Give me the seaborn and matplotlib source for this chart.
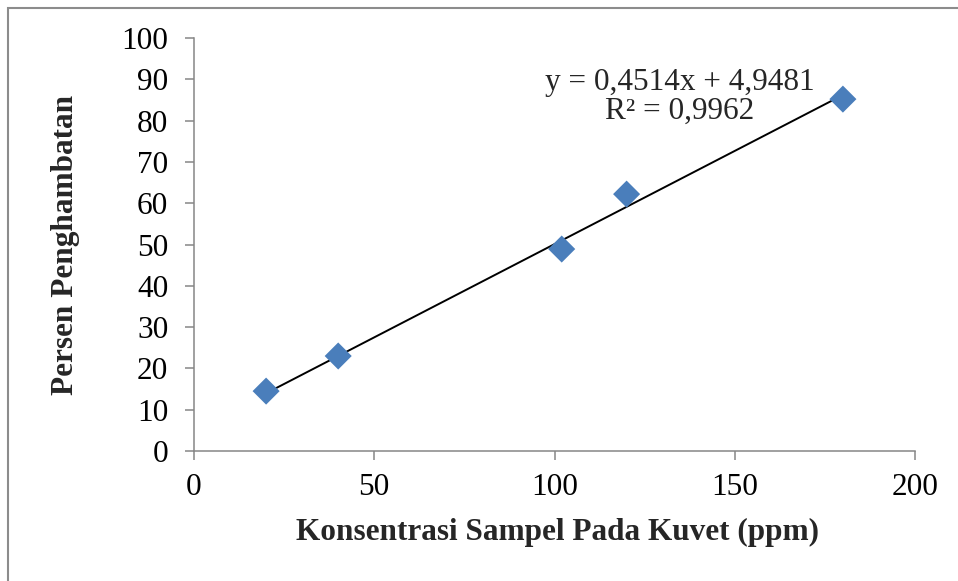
import matplotlib
matplotlib.use("Agg")
import matplotlib.pyplot as plt
from matplotlib.patches import Rectangle
import seaborn as sns
import pandas as pd
import numpy as np

# Inhibition data: sample concentration in cuvette vs percent inhibition
konsentrasi = [20, 40, 102, 120, 180]
persen = [14.5, 23.0, 48.9, 62.2, 85.2]

# Linear trendline coefficients
slope = 0.4514
intercept = 4.9481
r2 = 0.9962

x_ticks = [0, 50, 100, 150, 200]
y_ticks = [0, 10, 20, 30, 40, 50, 60, 70, 80, 90, 100]

df = pd.DataFrame({"Konsentrasi": konsentrasi, "Persen": persen})

sns.set_theme(style="white")
plt.rcParams["font.family"] = ["Liberation Serif", "DejaVu Serif"]

FS = 22.5
W, H = 958, 581
fig = plt.figure(figsize=(W / 100, H / 100), dpi=100)
ax = fig.add_axes([194 / W, 1 - 451 / H, (915 - 194) / W, (451 - 38) / H])

# Trendline over the data range
xs = np.array([min(konsentrasi), max(konsentrasi)])
ax.plot(xs, slope * xs + intercept, color="black", lw=1.4, zorder=2)

sns.scatterplot(data=df, x="Konsentrasi", y="Persen", ax=ax, marker="D",
                s=190, color="#4a7ebb", edgecolor="none", zorder=3)

ax.set_xlim(0, 200)
ax.set_ylim(0, 100)
ax.set_xticks(x_ticks)
ax.set_yticks(y_ticks)
ax.tick_params(axis="both", labelsize=FS, colors="#868686", labelcolor="black",
               length=6.5, width=1.1, direction="out", left=True, bottom=True)
ax.tick_params(axis="x", pad=9)
ax.tick_params(axis="y", pad=12)

for side in ["top", "right"]:
    ax.spines[side].set_visible(False)
for side in ["left", "bottom"]:
    ax.spines[side].set_color("#868686")
    ax.spines[side].set_linewidth(1.1)

ax.set_xlabel("Konsentrasi Sampel Pada Kuvet (ppm)", fontsize=FS,
              fontweight="bold")
ax.set_ylabel("Persen Penghambatan", fontsize=FS, fontweight="bold")
ax.xaxis.set_label_coords(557 / W, 1 - 518 / H, transform=fig.transFigure)
ax.yaxis.set_label_coords(80 / W, 1 - 245 / H, transform=fig.transFigure)

ax.text(0.674, 0.893, f"y = {slope:.4f}x + {intercept:.4f}".replace(".", ","),
        transform=ax.transAxes, fontsize=FS, ha="center", va="center")
ax.text(0.674, 0.823, f"R² = {r2:.4f}".replace(".", ","),
        transform=ax.transAxes, fontsize=FS, ha="center", va="center")

# Outer chart-area border
fig.patches.append(Rectangle((8 / W, -0.1), 1.2, 1 - 8 / H + 0.1,
                             transform=fig.transFigure, fill=False,
                             edgecolor="#8c8c8c", linewidth=1.5))

fig.savefig("out.png", dpi=100)
